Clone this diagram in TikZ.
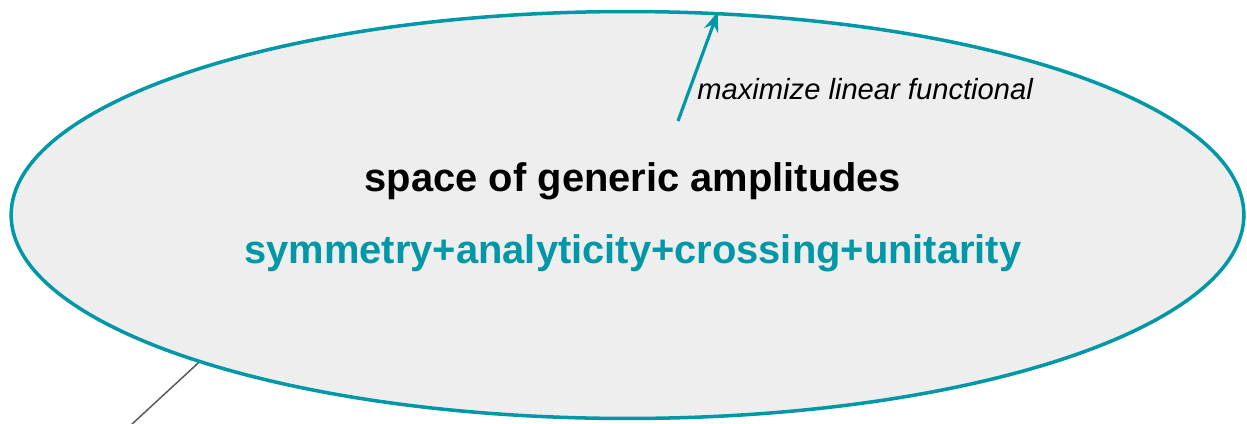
\documentclass[tikz,border=0pt]{standalone}
\usepackage{fontspec}
\setmainfont{Liberation Sans}
\usetikzlibrary{arrows.meta,shapes.geometric}
\definecolor{tealline}{HTML}{0097A7}
\definecolor{spacefill}{HTML}{EEEEEE}
\definecolor{greyline}{HTML}{5A5A5A}
\tikzset{
  spacebox/.style={ellipse, draw=tealline, fill=spacefill, line width=2pt, inner sep=0pt, minimum width=24.66cm, minimum height=8.14cm},
  headtext/.style={font=\fontsize{22.7}{27}\selectfont\bfseries}
}
\begin{document}
\begin{tikzpicture}[x=0.02cm, y=-0.02cm, >=Stealth]
\useasboundingbox (0,0) rectangle (1247,423);
\node[spacebox] (space) at (627.5,215) {};
\node[headtext] (title) at (633,181) {space of generic amplitudes};
\node[headtext, text=tealline] (constraints) at (633,253) {symmetry+analyticity+crossing+unitarity};
\coordinate (fstart) at (678,121);
\draw[->, tealline, line width=1.8pt] (fstart) -- (space.66.8);
\node[anchor=west, font=\fontsize{16.6}{20}\selectfont\itshape, inner sep=0pt] (flabel) at (697,89) {maximize linear functional};
\coordinate (gend) at (131,425);
\draw[greyline, line width=0.85pt] (space.199.0) -- (gend);
\end{tikzpicture}
\end{document}
